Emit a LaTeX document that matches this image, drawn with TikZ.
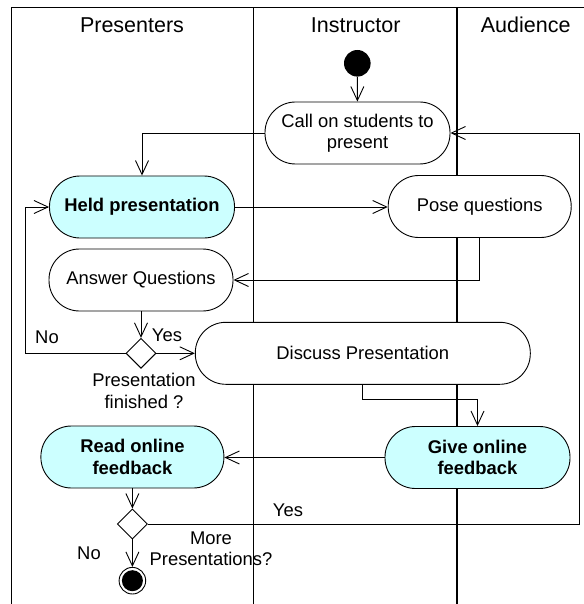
\documentclass[tikz,border=0pt]{standalone}
\usepackage{fontspec}
\setmainfont{Liberation Sans}
\usetikzlibrary{arrows.meta,shapes.geometric}
\definecolor{actcyan}{RGB}{204,255,255}
\begin{document}
\begin{tikzpicture}[x=1bp,y=-1bp,line width=0.9bp,
  every node/.style={font=\fontsize{18.4bp}{21.5bp}\selectfont},
  lane/.style={line width=0.9bp},
  lanethick/.style={line width=1.8bp},
  title/.style={font=\fontsize{21.5bp}{24bp}\selectfont},
  act/.style={draw,fill=white,rectangle,rounded corners=30.5bp,inner sep=0pt,
    minimum height=62bp,align=center},
  hl/.style={act,fill=actcyan,font=\fontsize{18.4bp}{21.5bp}\selectfont\bfseries},
  dec/.style={draw,fill=white,diamond,inner sep=0pt,minimum width=30bp,minimum height=30bp},
  lbl/.style={align=center,inner sep=0pt},
  arr/.style={-{Straight Barb[length=14bp,width=13bp]}}]
\useasboundingbox (0,0) rectangle (584,604);
% swimlanes
\draw[lane] (11.5,604) -- (11.5,7.3) -- (584,7.3);
\draw[lane] (253,7.3) -- (253,604);
\draw[lanethick] (456.7,7.3) -- (456.7,604);
\node[title] (tpres) at (132,25) {Presenters};
\node[title] (tinst) at (355.7,25) {Instructor};
\node[title] (taud) at (525.7,25) {Audience};
% nodes
\node[circle,fill=black,inner sep=0pt,minimum size=26.6bp] (start) at (357.3,63.3) {};
\node[act,minimum width=185bp] (call) at (357.5,133) {Call on students to\\present};
\node[hl,minimum width=185bp] (held) at (142,207) {Held presentation};
\node[act,minimum width=183bp] (pose) at (479.7,206.5) {Pose questions};
\node[act,minimum width=184bp] (answer) at (141,280) {Answer Questions};
\node[dec] (d1) at (141,353.3) {};
\node[act,minimum width=335bp] (discuss) at (362.8,353.3) {Discuss Presentation};
\node[hl,minimum width=183bp] (read) at (132.4,457) {Read online\\feedback};
\node[hl,minimum width=185bp] (give) at (477.5,457.5) {Give online\\feedback};
\node[dec] (d2) at (132.4,524) {};
\node[circle,draw,fill=white,inner sep=0pt,minimum size=26.6bp] (end) at (132.4,580.7) {};
\node[circle,fill=black,inner sep=0pt,minimum size=21bp] (endin) at (end.center) {};
% labels
\node[lbl] (lno1) at (47,337) {No};
\node[lbl] (lyes1) at (167,335) {Yes};
\node[lbl] (lfin) at (144,391) {Presentation\\finished ?};
\node[lbl] (lyes2) at (288,510) {Yes};
\node[lbl] (lno2) at (89,553) {No};
\node[lbl] (lmore) at (211,549) {More\\Presentations?};
% coordinates
\coordinate (noloop) at (25.7,353.3);
\coordinate (ret) at (579,524);
% connectors
\draw[arr] (start) -- (call);
\draw[arr] (call.west) -| (held.north);
\draw[arr] (held.east) -- (held.east -| pose.west);
\draw[arr] (pose.south) |- (answer.east);
\draw[arr] (answer.south) -- (d1.north);
\draw[arr] (d1.west) -- (noloop) |- (held.west);
\draw[arr] (d1.east) -- (d1.east -| discuss.west);
\draw[arr] (discuss.south) -- ++(0,15) -| (give.north);
\draw[arr] (give.west) -- (give.west -| read.east);
\draw[arr] (read.south) -- (d2.north);
\draw[arr] (d2.south) -- (end.north);
\draw[arr] (d2.east) -- (ret) |- (call.east);
\end{tikzpicture}
\end{document}
